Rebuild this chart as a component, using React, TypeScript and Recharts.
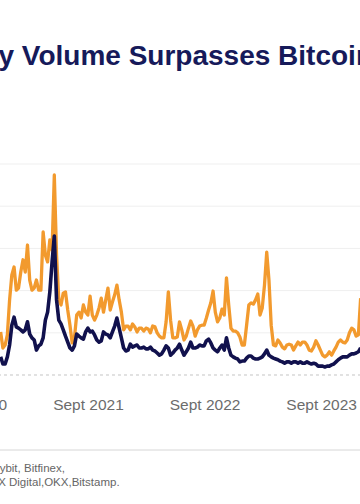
import React from 'react';
import { LineChart, Line, XAxis, YAxis, ReferenceLine } from 'recharts';

// Weekly observations, first week starting 2020-11-30
const START_WEEK = '2020-11-30';

const ETH_VOLUME = [
  10.2, 6.4, 7.1, 9.5, 17.8, 23.7, 25.6, 20.1, 20.6, 24.4,
  27.3, 24.4, 30.8, 22.5, 20.1, 20.6, 22.5, 20.1, 20.1, 33.9,
  28.4, 26.8, 32.0, 29.6, 47.4, 28.4, 17.8, 16.6, 19.4, 19.7,
  15.4, 11.8, 7.6, 8.8, 14.2, 14.9, 13.5, 16.6, 14.9, 14.2,
  18.7, 14.2, 13.0, 14.2, 15.9, 18.2, 14.9, 17.8, 20.6, 15.4,
  17.3, 19.0, 21.3, 17.8, 14.9, 10.7, 11.6, 11.6, 10.7, 12.1,
  11.4, 10.2, 11.1, 11.1, 10.4, 11.1, 10.9, 10.0, 11.6, 11.4,
  10.0, 9.2, 8.8, 8.8, 12.6, 19.7, 13.0, 8.8, 8.8, 9.0,
  12.6, 10.7, 8.3, 9.2, 11.1, 12.8, 11.6, 9.2, 10.7, 11.6,
  11.8, 11.8, 13.5, 15.4, 17.1, 19.9, 14.9, 12.6, 13.5, 15.6,
  14.2, 23.0, 16.6, 11.1, 10.4, 10.4, 10.0, 9.0, 7.1, 7.1,
  11.8, 16.6, 17.1, 16.8, 17.8, 19.2, 14.2, 15.9, 21.3, 29.1,
  22.5, 11.8, 7.1, 6.9, 8.3, 7.6, 6.6, 6.2, 7.1, 7.3,
  7.1, 5.9, 6.9, 7.8, 7.1, 7.8, 7.8, 7.1, 5.9, 5.7,
  6.6, 8.1, 7.1, 5.9, 4.7, 4.3, 4.7, 5.5, 4.7, 5.7,
  6.6, 7.8, 8.3, 7.8, 7.6, 8.3, 10.0, 11.1, 10.7, 9.2,
  9.5, 18.2,
];

const BTC_VOLUME = [
  4.3, 2.6, 2.6, 4.3, 7.1, 11.8, 13.7, 11.4, 11.1, 10.7,
  10.2, 10.7, 12.6, 9.7, 8.8, 8.3, 5.9, 6.9, 7.3, 8.8,
  13.0, 14.9, 19.7, 26.8, 32.9, 17.8, 13.0, 12.1, 10.7, 9.2,
  7.8, 6.4, 5.9, 6.9, 9.7, 9.2, 8.8, 8.5, 10.2, 11.1,
  10.2, 10.4, 9.5, 8.3, 7.8, 8.1, 10.2, 9.7, 9.5, 8.8,
  10.2, 11.6, 13.5, 11.1, 8.8, 6.4, 5.7, 5.9, 7.3, 6.6,
  6.9, 7.1, 6.4, 6.4, 6.6, 6.2, 6.2, 6.6, 5.9, 5.7,
  5.2, 4.7, 5.0, 5.9, 6.9, 6.4, 4.7, 5.2, 5.9, 6.4,
  7.3, 5.9, 4.7, 5.5, 6.4, 7.8, 6.4, 6.4, 6.6, 7.1,
  6.9, 6.9, 8.1, 8.5, 7.6, 6.4, 5.9, 5.5, 6.4, 7.1,
  5.9, 8.8, 6.4, 4.7, 4.3, 4.0, 3.8, 3.1, 3.3, 3.3,
  4.0, 4.5, 4.5, 4.0, 3.8, 3.8, 4.0, 4.3, 5.0, 5.9,
  4.7, 4.3, 4.0, 3.8, 3.6, 3.3, 3.1, 2.8, 3.1, 3.1,
  2.8, 3.1, 3.1, 2.8, 3.1, 2.8, 2.8, 3.1, 2.8, 2.6,
  2.8, 2.6, 2.1, 2.1, 2.1, 1.9, 2.1, 2.1, 2.4, 2.6,
  3.1, 3.6, 4.0, 4.3, 4.3, 4.3, 4.7, 5.0, 5.0, 5.2,
  5.5, 6.4,
];

const X_DOMAIN = ['2020-08-01', '2024-03-01'];
const X_TICK_DATES = ['2020-09-01', '2021-09-01', '2022-09-01', '2023-09-01'];
const X_TICK_LABELS = ['Sept 2020', 'Sept 2021', 'Sept 2022', 'Sept 2023'];
const Y_TICKS = [0, 10, 20, 30, 40, 50];

const TITLE_VISIBLE = 'y Volume Surpasses Bitcoin';
const SOURCE_LINE_1 = 'Bybit, Bitfinex,';
const SOURCE_LINE_2 = 'LMAX Digital,OKX,Bitstamp.';

const DAY = 86400000;
const startTs = Date.parse(START_WEEK);
const data = ETH_VOLUME.map((v, i) => ({
  t: startTs + i * 7 * DAY,
  eth: v,
  btc: BTC_VOLUME[i],
}));
const tickTs = X_TICK_DATES.map((d) => Date.parse(d));
const domain = X_DOMAIN.map((d) => Date.parse(d));

const FONT = '"Liberation Sans", Arial, Helvetica, sans-serif';

const TickLabel = (props: any) => {
  const { x, y, payload } = props;
  const idx = tickTs.indexOf(payload.value);
  return (
    <text x={x} y={y + 35} textAnchor="middle" fontSize={15.5} fill="#6c6c6c" fontFamily={FONT}>
      {X_TICK_LABELS[idx]}
    </text>
  );
};

export default function App() {
  return (
    <div style={{ position: 'fixed', left: 0, top: 0, width: 360, height: 504, overflow: 'hidden', background: '#fff' }}>
      <div style={{ position: 'absolute', left: -38.5, top: 0 }}>
        <LineChart width={417.8} height={420} data={data} margin={{ top: 164, right: 0, bottom: 0, left: 0 }}>
          <XAxis
            dataKey="t"
            type="number"
            domain={domain}
            ticks={tickTs}
            interval={0}
            allowDataOverflow
            tickLine={false}
            axisLine={false}
            tickSize={0}
            tickMargin={0}
            height={45}
            tick={<TickLabel />}
          />
          <YAxis hide domain={[0, 50]} ticks={Y_TICKS} />
          {Y_TICKS.filter((v) => v > 0).map((v) => (
            <ReferenceLine key={v} y={v} stroke="#efefef" strokeWidth={1} />
          ))}
          <ReferenceLine y={0} stroke="#c4c4c4" strokeDasharray="3 3" />
          <Line dataKey="eth" stroke="#F29A2E" strokeWidth={3.3} strokeLinejoin="round" dot={false} isAnimationActive={false} />
          <Line dataKey="btc" stroke="#11114D" strokeWidth={3.6} strokeLinejoin="round" dot={false} isAnimationActive={false} />
        </LineChart>
      </div>
      <svg width={360} height={504} style={{ position: 'absolute', left: 0, top: 0, pointerEvents: 'none' }}>
        <text x={-1.5} y={65} fontSize={28} fontWeight="bold" fill="#161a5a" fontFamily={FONT}>
          {TITLE_VISIBLE}
        </text>
        <line x1={0} x2={360} y1={450} y2={450} stroke="#d6d6d6" strokeWidth={1} />
        <text x={-8} y={472} fontSize={11.5} fill="#666" fontFamily={FONT}>
          {SOURCE_LINE_1}
        </text>
        <text x={-25.5} y={486} fontSize={11.5} fill="#666" fontFamily={FONT}>
          {SOURCE_LINE_2}
        </text>
      </svg>
    </div>
  );
}
